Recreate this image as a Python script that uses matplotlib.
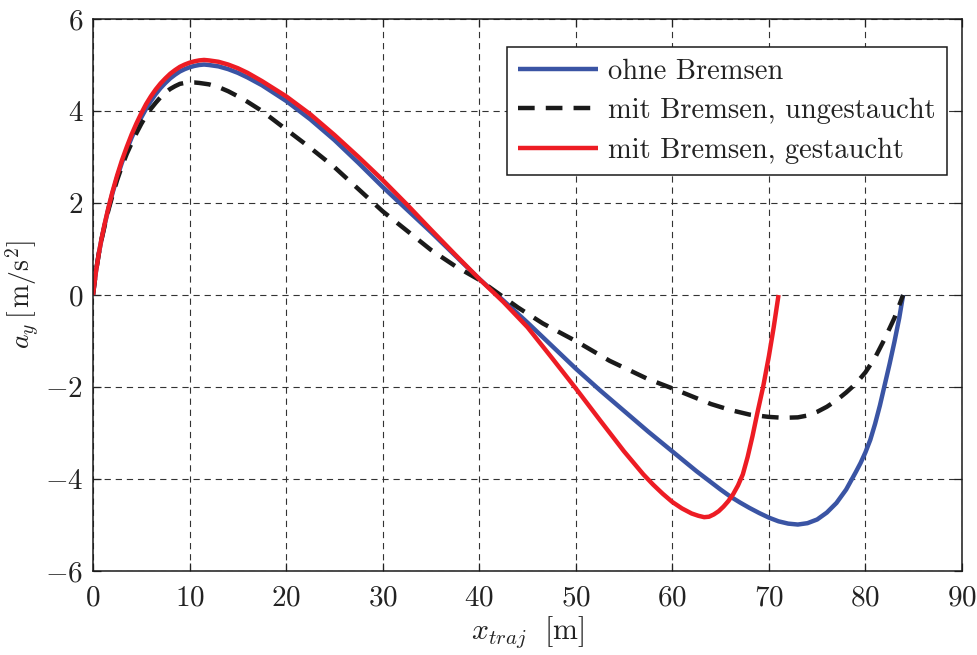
import matplotlib
matplotlib.use("Agg")
import matplotlib.pyplot as plt

plt.rcParams["font.family"] = "cmr10"
plt.rcParams["mathtext.fontset"] = "cm"
plt.rcParams["axes.formatter.use_mathtext"] = True
plt.rcParams["lines.scale_dashes"] = False

# lateral acceleration a_y over trajectory position x_traj
x_ohne = [0, 0.3, 0.6, 0.9, 1.2, 1.6, 2, 2.5, 3, 3.5, 4, 4.5, 5, 5.5, 6, 6.5, 7, 7.5, 8,
          8.5, 9, 9.5, 10, 10.5, 11, 11.5, 12, 13, 14, 15, 16, 17.5, 20, 22.5, 25, 27.5,
          30, 32.5, 35, 37.5, 40, 42.5, 45, 47.5, 50, 52.5, 55, 57.5, 60, 62.5, 65, 66,
          67, 68, 69, 70, 71, 72, 73, 74, 75, 76, 77, 78, 79, 79.5, 80, 80.5, 81, 81.5,
          82, 82.5, 83, 83.5, 83.9]
y_ohne = [0, 0.5, 0.9, 1.23, 1.52, 1.88, 2.2, 2.56, 2.88, 3.16, 3.42, 3.65, 3.86, 4.05,
          4.22, 4.37, 4.5, 4.61, 4.71, 4.79, 4.86, 4.91, 4.95, 4.98, 5.0, 5.01, 5.0, 4.97,
          4.91, 4.83, 4.73, 4.56, 4.22, 3.82, 3.37, 2.87, 2.35, 1.86, 1.37, 0.86, 0.35,
          -0.12, -0.6, -1.1, -1.6, -2.07, -2.52, -2.97, -3.4, -3.83, -4.23, -4.38, -4.51,
          -4.63, -4.74, -4.84, -4.92, -4.97, -4.99, -4.96, -4.88, -4.73, -4.52, -4.23,
          -3.85, -3.65, -3.42, -3.15, -2.8, -2.4, -1.95, -1.5, -1.02, -0.5, 0]

x_ungest = [0, 0.3, 0.6, 0.9, 1.2, 1.6, 2, 2.5, 3, 3.5, 4, 4.5, 5, 5.5, 6, 6.5, 7, 7.5,
            8, 8.5, 9, 9.5, 10, 10.5, 11, 12, 13, 14, 15, 16, 17.5, 20, 22.5, 25, 27.5,
            30, 32.5, 35, 37.5, 40, 42, 44, 46.6, 50, 53.5, 57.4, 60, 62, 64, 66, 68,
            70, 71.5, 73, 74, 75, 76, 77, 78, 79, 80, 81, 82, 83, 83.9]
y_ungest = [0, 0.5, 0.9, 1.22, 1.5, 1.85, 2.15, 2.5, 2.8, 3.07, 3.3, 3.52, 3.72, 3.9,
            4.05, 4.18, 4.3, 4.4, 4.48, 4.54, 4.59, 4.61, 4.62, 4.62, 4.61, 4.58, 4.52,
            4.43, 4.32, 4.2, 4.0, 3.6, 3.2, 2.78, 2.3, 1.82, 1.4, 0.98, 0.63, 0.33, 0.03,
            -0.27, -0.62, -1.0, -1.43, -1.82, -2.03, -2.2, -2.37, -2.5, -2.6, -2.65,
            -2.67, -2.66, -2.62, -2.54, -2.43, -2.29, -2.12, -1.93, -1.68, -1.36, -0.95,
            -0.5, 0]

x_gest = [0, 0.3, 0.6, 0.9, 1.2, 1.6, 2, 2.5, 3, 3.5, 4, 4.5, 5, 5.5, 6, 6.5, 7, 7.5, 8,
          8.5, 9, 9.5, 10, 10.5, 11, 11.5, 12, 13, 14, 15, 16, 17.5, 20, 22.5, 25, 27.5,
          30, 32.5, 35, 37.5, 40, 42.5, 45, 47.5, 50, 52.5, 55, 56, 57, 58, 59, 60, 61,
          62, 62.7, 63.3, 63.8, 64.3, 64.8, 65.3, 65.8, 66.3, 66.8, 67.3, 67.8, 68.3,
          68.8, 69.4, 70, 70.5, 71]
y_gest = [0, 0.5, 0.9, 1.24, 1.54, 1.9, 2.23, 2.6, 2.93, 3.22, 3.49, 3.73, 3.95, 4.15,
          4.32, 4.47, 4.6, 4.71, 4.81, 4.89, 4.96, 5.01, 5.05, 5.08, 5.1, 5.11, 5.1, 5.07,
          5.01, 4.93, 4.83, 4.65, 4.32, 3.93, 3.48, 3.0, 2.5, 1.97, 1.42, 0.88, 0.35,
          -0.15, -0.7, -1.36, -2.03, -2.72, -3.4, -3.65, -3.9, -4.12, -4.32, -4.5, -4.64,
          -4.75, -4.8, -4.83, -4.82, -4.77, -4.7, -4.6, -4.48, -4.33, -4.14, -3.9, -3.52,
          -3.07, -2.57, -2.0, -1.33, -0.7, 0]

labels = ["ohne Bremsen", "mit Bremsen, ungestaucht", "mit Bremsen, gestaucht"]
xticks = list(range(0, 91, 10))
yticks = list(range(-6, 7, 2))

W, H = 977, 655
fig = plt.figure(figsize=(W / 100, H / 100), dpi=100)
ax = fig.add_axes([93 / W, 84 / H, 869 / W, 552 / H])

style = dict(lw=3.2, solid_capstyle="butt", solid_joinstyle="round")
ax.plot(x_ohne, y_ohne, color="#3a54a4", label=labels[0], **style)
ax.plot(x_ungest, y_ungest, color="#1a1a1a", label=labels[1], lw=3.2,
        linestyle=(0, (12, 8)), dash_capstyle="butt", dash_joinstyle="round")
ax.plot(x_gest, y_gest, color="#ed1c24", label=labels[2], **style)

ax.set_xlim(0, 90)
ax.set_ylim(-6, 6)
ax.set_xticks(xticks)
ax.set_yticks(yticks)
ax.grid(True, color="#333333", lw=0.8, linestyle=(0, (4.5, 3.5)))
ax.set_axisbelow(True)
ax.tick_params(direction="in", length=6, width=0.9, top=True, right=True,
               labelsize=21, colors="#222222")
ax.tick_params(axis="x", pad=10)
ax.tick_params(axis="y", pad=7)
for s in ax.spines.values():
    s.set_linewidth(1.1)
    s.set_color("#1a1a1a")

ax.set_xlabel(r"$x_{traj}\ \ [\mathrm{m}]$", fontsize=21.5, color="#222222", labelpad=2)
ax.set_ylabel(r"$a_y\,[\,\mathrm{m/s^2}]$", fontsize=20, color="#222222")
ax.yaxis.set_label_coords(-0.0587, 0.5)

leg = ax.legend(loc="upper right", bbox_to_anchor=(947 / W, 608 / H),
                bbox_transform=fig.transFigure, fontsize=20.5, frameon=True,
                fancybox=False, shadow=False, borderaxespad=0, handlelength=2.8,
                handletextpad=0.35, labelspacing=0.46, borderpad=0.4)
leg.get_frame().set_edgecolor("#1a1a1a")
leg.get_frame().set_linewidth(1.1)
leg.get_frame().set_alpha(1)
for t in leg.get_texts():
    t.set_color("#222222")

fig.savefig("out.png", dpi=100)
